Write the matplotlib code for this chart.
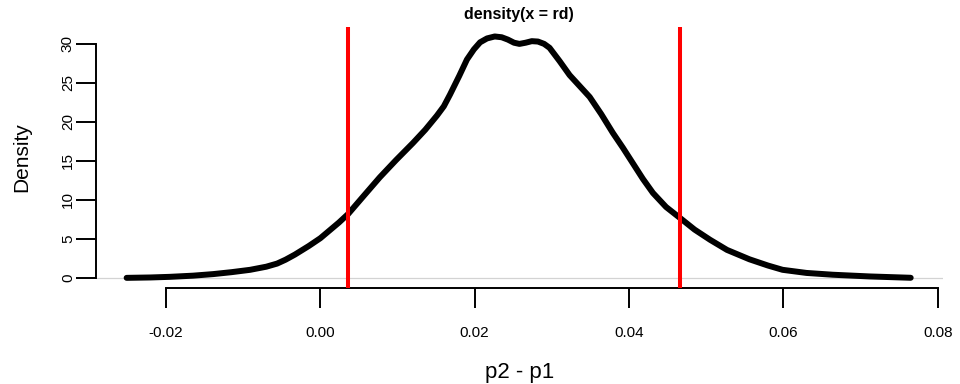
import matplotlib
matplotlib.use("Agg")
import matplotlib.pyplot as plt

plt.rcParams['font.family'] = ['Liberation Sans', 'DejaVu Sans']

# density estimate of rd
dens_x = [-0.0251, -0.0220, -0.0195, -0.0165, -0.0139, -0.0115, -0.0091, -0.0070,
          -0.0056, -0.0045, -0.0033, -0.0015, 0.0000, 0.0012, 0.0024, 0.0036,
          0.0056, 0.0077, 0.0098, 0.0120, 0.0136, 0.0151, 0.0160, 0.0168,
          0.0180, 0.0190, 0.0199, 0.0207, 0.0216, 0.0226, 0.0235, 0.0243,
          0.0251, 0.0258, 0.0266, 0.0274, 0.0282, 0.0290, 0.0297, 0.0310,
          0.0323, 0.0336, 0.0349, 0.0364, 0.0379, 0.0392, 0.0405, 0.0418,
          0.0431, 0.0448, 0.0466, 0.0485, 0.0505, 0.0527, 0.0556, 0.0580,
          0.0599, 0.0630, 0.0664, 0.0712, 0.0765]
dens_y = [0.02, 0.07, 0.15, 0.3, 0.5, 0.75, 1.05, 1.45,
          1.85, 2.35, 3.0, 4.1, 5.1, 6.1, 7.1, 8.2,
          10.5, 12.9, 15.1, 17.3, 19.0, 20.8, 22.0, 23.5,
          25.9, 28.0, 29.3, 30.2, 30.7, 30.95, 30.85, 30.55,
          30.15, 30.0, 30.15, 30.35, 30.3, 30.0, 29.5, 27.8,
          26.0, 24.6, 23.2, 21.0, 18.6, 16.7, 14.7, 12.7,
          10.9, 9.1, 7.7, 6.2, 4.9, 3.6, 2.4, 1.6,
          1.05, 0.65, 0.42, 0.2, 0.03]

# interval bounds (red lines)
bounds = [0.0036, 0.0466]

x_ticks = [-0.02, 0.00, 0.02, 0.04, 0.06, 0.08]
y_ticks = [0, 5, 10, 15, 20, 25, 30]

fig = plt.figure(figsize=(9.6, 3.84), dpi=100)
ax = fig.add_axes([0.1, 0.25, 0.882, 0.68])

ax.axhline(0, color='#d3d3d3', lw=0.9, zorder=1)
ax.plot(dens_x, dens_y, color='black', lw=4.3, solid_capstyle='round',
        solid_joinstyle='round', zorder=2)
for b in bounds:
    ax.axvline(b, color='red', lw=2.9, zorder=3)

ax.set_xlim(-0.02907, 0.08065)
ax.set_ylim(-1.28, 32.18)

for s in ['top', 'right']:
    ax.spines[s].set_visible(False)
ax.spines['bottom'].set_bounds(x_ticks[0], x_ticks[-1])
ax.spines['left'].set_bounds(y_ticks[0], y_ticks[-1])
ax.spines['bottom'].set_linewidth(1.4)
ax.spines['left'].set_linewidth(1.4)

ax.set_xticks(x_ticks)
ax.set_xticklabels(['%.2f' % v for v in x_ticks])
ax.set_yticks(y_ticks)
ax.set_yticklabels([str(v) for v in y_ticks], rotation=90, va='center')
ax.tick_params(axis='x', length=14.4, width=1.4, pad=13, labelsize=11)
ax.tick_params(axis='y', length=14.4, width=1.4, pad=0.8, labelsize=11)

ax.set_xlabel('p2 - p1', fontsize=16, labelpad=16)
ax.set_ylabel('Density', fontsize=15, labelpad=21)
ax.set_title('density(x = rd)', fontsize=11.5, fontweight='bold', pad=6)

fig.savefig('out.png', dpi=100)
